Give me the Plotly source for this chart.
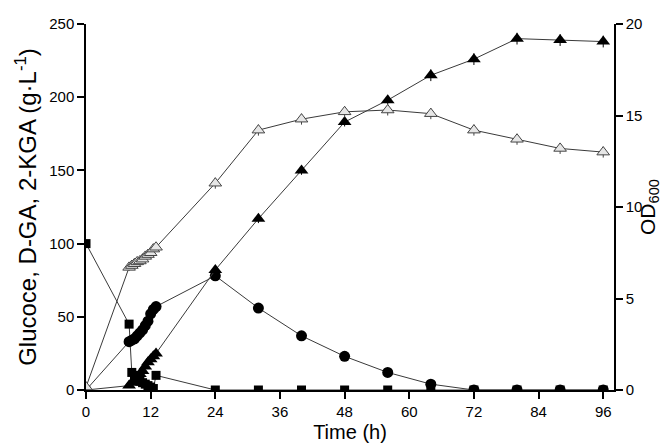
import plotly.graph_objects as go

# Time points (h)
t_all = [0, 8, 8.5, 9, 9.5, 10, 10.5, 11, 11.5, 12, 12.5, 13,
         24, 32, 40, 48, 56, 64, 72, 80, 88, 96]

# Glucose (g/L) - filled squares
glucose = [100, 45, 12, 10, 8, 6, 5, 4, 3, 2, 1, 10,
           0, 0, 0, 0, 0, 0, 0, 0, 0, 0]
# D-GA (g/L) - filled circles
dga = [0, 33, 34, 35, 37, 39, 41, 44, 47, 52, 55, 57,
       78, 56, 37, 23, 12, 4, 0, 0, 0, 0]
# 2-KGA (g/L) - filled triangles
kga = [0, 3, 5, 7, 9, 11, 13, 16, 19, 21, 23, 25,
       82, 117, 150, 183, 198, 215, 226, 240, 239, 238]
kga_err = [1, 1, 1, 1, 1, 1, 1, 1, 1, 1, 1, 1,
           3, 3, 3, 3, 3, 4, 4, 4, 4, 4]
# OD600 - open triangles (right axis)
od600 = [0.16, 6.7, 6.8, 6.9, 7.0, 7.05, 7.15, 7.3, 7.4, 7.5, 7.7, 7.8,
         11.3, 14.2, 14.8, 15.2, 15.3, 15.1, 14.2, 13.7, 13.2, 13.0]
od_err = [0.1, 0.2, 0.2, 0.2, 0.2, 0.2, 0.2, 0.2, 0.2, 0.2, 0.2, 0.2,
          0.3, 0.3, 0.3, 0.3, 0.3, 0.3, 0.3, 0.3, 0.3, 0.3]

x_ticks = [0, 12, 24, 36, 48, 60, 72, 84, 96]
y_ticks = [0, 50, 100, 150, 200, 250]
y2_ticks = [0, 5, 10, 15, 20]

LINE = dict(color="#3a3a3a", width=1)
FONT = "Liberation Sans, Arial, sans-serif"

fig = go.Figure()

fig.add_trace(go.Scatter(
    x=t_all, y=od600, yaxis="y2", mode="lines+markers", line=LINE,
    marker=dict(symbol="triangle-up", size=11, color="#e6e6e6",
                line=dict(color="#444444", width=1)),
    error_y=dict(type="data", array=od_err, visible=True, thickness=1,
                 width=0, color="#444444"),
    name="OD600"))

fig.add_trace(go.Scatter(
    x=t_all, y=glucose, mode="lines+markers", line=LINE,
    marker=dict(symbol="square", size=9, color="black"),
    name="Glucose"))

fig.add_trace(go.Scatter(
    x=t_all, y=dga, mode="lines+markers", line=LINE,
    marker=dict(symbol="circle", size=11, color="black"),
    name="D-GA"))

fig.add_trace(go.Scatter(
    x=t_all, y=kga, mode="lines+markers", line=LINE,
    marker=dict(symbol="triangle-up", size=12, color="black"),
    error_y=dict(type="data", array=kga_err, visible=True, thickness=1,
                 width=0, color="black"),
    name="2-KGA"))

axis_common = dict(showline=True, linecolor="black", linewidth=1.5,
                   ticks="outside", ticklen=7, tickwidth=1.5, tickcolor="black",
                   showgrid=False, zeroline=False, ticklabeloverflow="allow",
                   tickfont=dict(family=FONT, size=15, color="black"))

fig.update_layout(
    width=669, height=443,
    margin=dict(l=78, r=63, t=7, b=61),
    paper_bgcolor="white", plot_bgcolor="white",
    showlegend=False,
    font=dict(family=FONT, color="black"),
    xaxis=dict(range=[0, 98], tickvals=x_ticks,
               title=dict(text="Time (h)", font=dict(family=FONT, size=20), standoff=6),
               **axis_common),
    yaxis=dict(range=[0, 250], tickvals=y_ticks,
               title=dict(text="Glucoce, D-GA, 2-KGA (g·L<sup>-1</sup>)",
                          font=dict(family=FONT, size=24), standoff=6),
               **axis_common),
    yaxis2=dict(range=[0, 20], tickvals=y2_ticks, overlaying="y", side="right",
                **axis_common),
    annotations=[dict(text="OD<sub>600</sub>", xref="paper", yref="paper",
                      x=(641 - 78) / 528, y=0.5, xanchor="center", yanchor="middle",
                      textangle=-90, showarrow=False,
                      font=dict(family=FONT, size=21, color="black"))],
)

fig.write_html("out.html")
